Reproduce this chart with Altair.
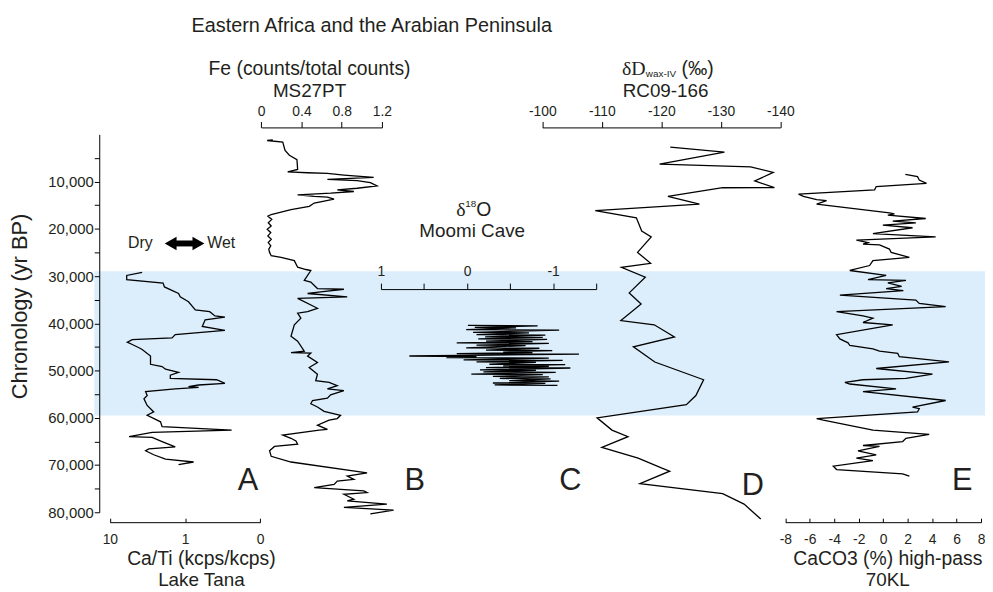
import altair as alt
import pandas as pd

# ---------------- data ----------------
# A: Ca/Ti (kcps/kcps), Lake Tana (log scale)
a_age = [29230, 29860, 30760, 31470, 32300, 33690, 34390, 35440, 37170, 37530, 38430, 38700,
         39260, 40660, 41500, 42400, 43090, 43440, 44000, 44490, 45180, 45530, 46930, 48670,
         49150, 49710, 50400, 50970, 51660, 51950, 52700, 53060, 53410, 53540, 53890, 54460,
         55290, 55980, 57380, 58760, 59470, 60850, 61890, 62600, 63080, 63980, 64130, 65030,
         66160, 66580, 66990, 67830, 68730, 69360, 69920]
a_val = [3.72, 5.97, 5.97, 1.96, 1.88, 1.22, 1.16, 0.90, 0.73, 0.47, 0.40, 0.295,
         0.54, 0.59, 0.295, 1.35, 1.49, 5.04, 5.86, 5.04, 4.10, 3.72, 2.88, 2.88,
         2.02, 1.82, 1.22, 1.57, 1.57, 0.38, 0.295, 0.66, 0.90, 0.66, 1.35, 3.35,
         3.19, 3.52, 3.19, 2.61, 3.19, 2.12, 2.02, 0.24, 2.74, 5.56, 2.74, 2.02,
         1.35, 3.03, 3.35, 2.61, 1.82, 0.77, 1.22]

# B: Fe (counts/total counts), MS27PT
b_age = [1170, 1300, 1650, 3390, 4430, 5350, 7440, 7920, 8130, 8270, 8610, 9110, 9530, 9800,
         10220, 10910, 11410, 11740, 12100, 12450, 12790, 13140, 13290, 13710, 14540, 15230,
         15920, 16970, 17320, 18000, 18700, 19410, 20100, 20810, 21500, 22200, 22900, 23600,
         24300, 24990, 25680, 26040, 26730, 28130, 28610, 28820, 30910, 31260, 32640, 32790,
         33350, 33690, 34390, 34600, 34730, 36820, 37530, 37860, 38910, 40310, 42750, 43800,
         45890, 46220, 46300, 46930, 48310, 49360, 50760, 52160, 52490, 53200, 53890, 54250,
         55150, 55840, 56340, 57030, 57720, 58630, 59470, 60160, 60510, 61560, 62460, 62600,
         63650, 64340, 64900, 65590, 66070, 66990, 68160, 69360, 71650, 72340, 73050, 73390,
         74100, 74790, 75480, 75830, 76190, 77230, 77570, 78270, 78970, 79530, 80360]
b_val = [0.115, 0.059, 0.214, 0.237, 0.280, 0.355, 0.362, 0.263, 0.461, 0.658, 0.822, 1.118, 0.658, 0.954,
         1.085, 1.151, 0.954, 0.756, 0.921, 0.690, 0.362, 0.527, 0.658, 0.724, 0.527, 0.477,
         0.296, 0.099, 0.066, 0.105, 0.070, 0.099, 0.060, 0.095, 0.066, 0.100, 0.070, 0.095,
         0.075, 0.083, 0.099, 0.197, 0.329, 0.362, 0.444, 0.493, 0.428, 0.493, 0.559, 0.822,
         0.592, 0.461, 0.855, 0.527, 0.362, 0.559, 0.461, 0.362, 0.394, 0.329, 0.296, 0.362,
         0.428, 0.296, 0.493, 0.461, 0.559, 0.477, 0.559, 0.542, 0.675, 0.756, 0.658, 0.822,
         0.690, 0.658, 0.510, 0.493, 0.559, 0.625, 0.789, 0.756, 0.675, 0.559, 0.658, 0.576,
         0.214, 0.296, 0.345, 0.362, 0.132, 0.083, 0.099, 0.296, 1.052, 0.855, 0.921, 0.756,
         0.724, 0.527, 1.020, 1.052, 0.822, 0.921, 0.855, 1.249, 0.822, 1.316, 1.085]

# C: d18O, Moomi Cave
c_age = [40446, 40546, 40864, 40964, 41352, 41452, 41909, 42009, 42397, 42497, 42884, 42984,
         43302, 43402, 43789, 43889, 44138, 44238, 44625, 44725, 45182, 45282, 45670, 45770,
         46088, 46188, 46436, 46536, 46924, 47024, 47272, 47372, 47760, 47860, 48178, 48278,
         48665, 48765, 49013, 49113, 49361, 49461, 49849, 49949, 50267, 50367, 50754, 50854,
         51242, 51342, 51660, 51760, 52147, 52247, 52635, 52735, 53053, 53153]
c_val = [-0.01, -0.82, -0.09, -0.57, 0.01, -1.07, -0.07, -0.72, -0.11, -0.91, -0.21, -0.88,
         -0.13, -0.93, -0.22, -0.76, 0.12, -0.95, -0.11, -0.68, 0.01, -0.84, -0.22, -0.99,
         -0.42, -0.76, 0.12, -1.30, 0.67, -0.11, 0.24, -0.95, 0.04, -1.11, -0.11, -0.80,
         -0.26, -1.14, -0.42, -0.95, -0.22, -1.20, -0.15, -0.80, -0.19, -1.03, -0.05, -0.88,
         -0.30, -0.95, -0.38, -0.97, -0.49, -1.07, -0.30, -0.91, -0.32, -1.05]

# D: dD wax-IV, RC09-166
d_age = [2700, 3740, 6310, 6870, 8060, 9870, 11260, 11300, 13140, 14750, 16140, 17680, 20460,
         21710, 24990, 27290, 28130, 30220, 33560, 35920, 39410, 40310, 42880, 44970, 48190,
         51950, 55290, 57230, 60010, 62600, 63990, 66280, 68520, 70610, 71300, 73950, 76040,
         78280, 81410]
d_val = [-121.5, -130.6, -119.7, -135.0, -138.8, -135.7, -139.0, -130.3, -121.1, -126.4, -108.9,
         -115.8, -116.7, -118.3, -116.0, -118.2, -113.3, -117.3, -114.6, -116.6, -113.2, -118.8,
         -122.2, -115.3, -118.9, -127.1, -125.8, -124.2, -109.2, -111.7, -114.4, -110.0, -116.1,
         -120.0, -121.4, -116.4, -130.3, -133.9, -136.7]

# E: CaCO3 (%) high-pass, 70KL
e_age = [8480, 8960, 9660, 10360, 11050, 11750, 12660, 13140, 13840, 14050, 14750, 16630, 16840,
         17110, 17810, 18370, 18720, 19200, 19770, 21020, 21710, 22400, 22900, 23240, 23380,
         24280, 24990, 26040, 26730, 27770, 28820, 29860, 30760, 30900, 31460, 32160, 32650,
         33070, 34040, 35080, 35780, 36480, 37530, 38430, 38910, 39830, 40310, 42400, 43300,
         44140, 44700, 45390, 45890, 46370, 47060, 48180, 49570, 50760, 51660, 51950, 52490,
         52850, 53890, 54460, 56340, 57720, 58070, 58760, 60160, 60510, 62600, 63500, 64340,
         65030, 65870, 66070, 66990, 67830, 68520, 69080, 70250, 70960, 71860, 72340]
e_val = [1.81, 2.81, 2.95, 3.54, -0.57, -0.70, -6.92, -6.52, -5.44, -4.63, -5.44, 0.51, 0.92,
         0.38, 3.48, 0.78, 2.67, -0.03, 2.40, -0.84, 4.29, -2.19, -1.24, -1.65, -0.30,
         0.51, 0.65, 2.14, -0.84, -1.11, -2.73, 0.24, -1.24, 1.86, 0.38, 1.51, 0.24,
         1.65, -3.54, 2.67, 2.95, 5.11, -3.81, -1.65, -0.84, -1.65, 0.78, -3.81, -3.54,
         -2.87, -2.73, -0.84, -0.30, 1.19, 1.32, 5.38, -0.57, 4.03, 1.86, -1.65, -3.13,
         -2.73, 1.05, -1.65, 5.11, 2.40, 2.95, 2.81, -5.44, -4.89, -0.84, 3.76, 1.86,
         1.59, -1.65, -0.30, -2.06, -0.57, -2.19, -0.84, -4.08, -3.81, 1.59, 2.14]

band_start = [29000]
band_end = [59500]

y_ticks = list(range(5000, 80001, 5000))

# ---------------- layout ----------------
W, H = 893, 381
X0, Y0 = 100, 133          # page position of the plot origin
FONT = "Liberation Sans"
TXT = "#231F20"
LW = 1.3

one = pd.DataFrame({"k": [0]})

y_enc = alt.Y(
    "age:Q",
    scale=alt.Scale(domain=[0, 80000], reverse=True, nice=False, zero=False),
    axis=alt.Axis(
        values=y_ticks,
        labelExpr="datum.value % 10000 == 0 ? format(datum.value, ',') : ''",
        tickSize=5, tickColor="black", domainColor="black", labelColor=TXT,
        labelFont=FONT, labelFontSize=15, labelPadding=1, grid=False, zindex=1,
        title="Chronology (yr BP)", titleFont=FONT, titleFontSize=22,
        titleFontWeight="normal", titleColor=TXT, titleAngle=270,
        titleX=20 - X0, titleY=306 - Y0, titleAlign="center", titleBaseline="middle",
    ),
)


def top_axis(offset, values, tick, pad, expr):
    return alt.Axis(
        orient="top", offset=offset, values=values, tickSize=tick, labelPadding=pad,
        labelExpr=expr, labelFont=FONT, labelFontSize=14, labelColor=TXT,
        labelBaseline="middle", labelFlush=False, labelOverlap=False,
        domainColor="black", tickColor="black", grid=False, title=None, zindex=1,
    )


def panel(ages, vals, domain, rng, axis, scale_type="linear"):
    df = pd.DataFrame({"age": ages, "v": vals})
    return alt.Chart(df).mark_line(color="black", strokeWidth=LW).encode(
        x=alt.X("v:Q", scale=alt.Scale(type=scale_type, domain=domain, range=rng,
                                        nice=False, zero=False), axis=axis),
        y=y_enc,
        order="age:Q",
    )


panel_a = panel(a_age, a_val, [0.1, 10], [262.3 - X0, 110.7 - X0],
                top_axis(-(524 - Y0), [10, 1, 0.1], 4, -21,
                         "datum.value < 0.5 ? '0' : datum.value + ''"), "log")
panel_b = panel(b_age, b_val, [0, 1.2], [263.3 - X0, 385 - X0],
                top_axis(Y0 - 126, [0, 0.4, 0.8, 1.2], 6, 10, "datum.value + ''"))
panel_c = panel(c_age, c_val, [-1.5, 1], [601 - X0, 384 - X0],
                top_axis(-(289 - Y0), [1, 0.5, 0, -0.5, -1, -1.5], 6, 12,
                         "datum.value == 1 ? '1' : datum.value == 0 ? '0' : datum.value == -1 ? '-1' : ''"))
panel_d = panel(d_age, d_val, [-140, -100], [786.7 - X0, 546.7 - X0],
                top_axis(Y0 - 126, [-100, -110, -120, -130, -140], 6, 10, "datum.value + ''"))
panel_e = panel(e_age, e_val, [-8, 8], [791.7 - X0, 989 - X0],
                top_axis(-(524 - Y0), [-8, -6, -4, -2, 0, 2, 4, 6, 8], 4, -22, "datum.value + ''"))

band = alt.Chart(pd.DataFrame({"age": band_start, "age2": band_end})).mark_rect(
    color="#DCEEFB").encode(
    y=y_enc, y2="age2:Q", x=alt.value(95 - X0), x2=alt.value(W))


def label(text, x, y, size=19, align="center", font=FONT, baseline="middle"):
    return alt.Chart(one).mark_text(
        text=text, fontSize=size, align=align, baseline=baseline, font=font, color=TXT
    ).encode(x=alt.value(x - X0), y=alt.value(y - Y0))


texts = [
    label("Eastern Africa and the Arabian Peninsula", 193, 24, 20, "left"),
    label("Fe (counts/total counts)", 312, 67.5, 19.5),
    label("MS27PT", 312, 89.5),
    label("δD", 627, 67.5, 20, "left", "Liberation Serif"),
    label("wax-IV", 651, 72, 10, "left"),
    label("(‰)", 687, 67.5, 19.5, "left"),
    label("RC09-166", 671, 89.5),
    label("δ", 460, 209, 20, "left", "Liberation Serif"),
    label("18", 469, 203, 10, "left"),
    label("O", 480, 209, 19.5, "left"),
    label("Moomi Cave", 476, 230),
    label("Dry", 129, 243, 16, "left"),
    label("Wet", 209, 243, 16, "left"),
    label("Ca/Ti (kcps/kcps)", 203, 561, 19.5),
    label("Lake Tana", 203, 582.5),
    label("CaCO3 (%) high-pass", 895, 561, 19.5),
    label("70KL", 895, 582.5),
    label("A", 250, 483, 31),
    label("B", 418, 483, 31),
    label("C", 575, 483, 31),
    label("D", 759, 488, 31),
    label("E", 970, 483, 31),
]

arrow_shaft = alt.Chart(one).mark_rule(color="black", strokeWidth=6).encode(
    x=alt.value(174 - X0), x2=alt.value(198 - X0), y=alt.value(243 - Y0))
arrow_l = alt.Chart(one).mark_point(shape="triangle-left", filled=True, size=190,
                                    color="black", opacity=1).encode(
    x=alt.value(172 - X0), y=alt.value(243 - Y0))
arrow_r = alt.Chart(one).mark_point(shape="triangle-right", filled=True, size=190,
                                    color="black", opacity=1).encode(
    x=alt.value(200 - X0), y=alt.value(243 - Y0))

chart = alt.layer(
    band, panel_a, panel_b, panel_c, panel_d, panel_e,
    arrow_shaft, arrow_l, arrow_r, *texts
).resolve_scale(x="independent").properties(
    width=W, height=H,
    padding={"left": X0 - 8, "top": Y0 - 8, "right": 0, "bottom": 584 - (Y0 - 8) - H},
    autosize=alt.AutoSizeParams(type="none"),
).configure_view(stroke=None)

chart.save("out.html", embed_options={"renderer": "svg", "actions": False})
